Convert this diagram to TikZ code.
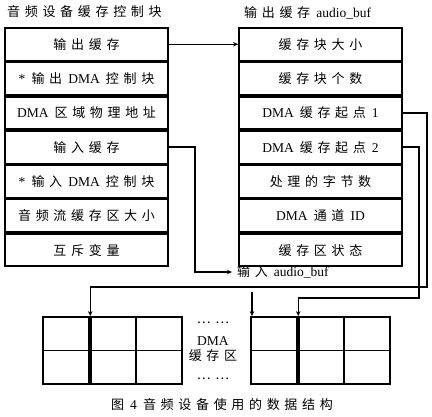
\documentclass[tikz,border=0pt]{standalone}
\usepackage{fontspec}
\setmainfont{Liberation Serif}
\newfontfamily\zhfont[LetterSpace=36]{Noto Sans CJK SC}
\newcommand{\zh}[1]{{\zhfont\fontsize{13}{15}\selectfont #1}}
\newcommand{\gap}{\hspace{0.45em}}
\usetikzlibrary{positioning,arrows.meta}

\tikzset{
  field/.style={draw, line width=1.8pt, minimum width=163pt, minimum height=32.5pt,
    inner sep=0pt, font=\fontsize{13.5}{15}\selectfont},
  cell/.style={draw, line width=1.8pt, minimum width=46.3pt, minimum height=33.5pt, inner sep=0pt},
  link/.style={line width=1.5pt, -{Stealth[length=5pt,width=4.5pt]}},
  lbl/.style={font=\fontsize{13.5}{15}\selectfont, inner sep=0pt},
}

\begin{document}
\begin{tikzpicture}[x=1pt, y=-1pt]
    \useasboundingbox[fill=white] (0,0) rectangle (432,416);

    % control block of the audio device
    \node[lbl, anchor=west] (ltitle) at (7,12) {\zh{音频设备缓存控制块}};
    \node[field] (lo) at (86.5,44.25) {\zh{输出缓存}};
    \node[field, below=0pt of lo] (lodma) {*\gap\zh{输出}\gap DMA\gap\zh{控制块}};
    \node[field, below=0pt of lodma] (addr) {DMA\gap\zh{区域物理地址}};
    \node[field, below=0pt of addr] (li) {\zh{输入缓存}};
    \node[field, below=0pt of li] (lidma) {*\gap\zh{输入}\gap DMA\gap\zh{控制块}};
    \node[field, below=0pt of lidma] (ssize) {\zh{音频流缓存区大小}};
    \node[field, below=0pt of ssize] (mutex) {\zh{互斥变量}};

    % output audio_buf
    \node[lbl, anchor=west] (rtitle) at (244,13) {\zh{输出缓存}\gap audio\_buf};
    \node[field] (bsize) at (320.5,44.25) {\zh{缓存块大小}};
    \node[field, below=0pt of bsize] (bnum) {\zh{缓存块个数}};
    \node[field, below=0pt of bnum] (s1) {DMA\gap\zh{缓存起点}\gap 1};
    \node[field, below=0pt of s1] (s2) {DMA\gap\zh{缓存起点}\gap 2};
    \node[field, below=0pt of s2] (bytes) {\zh{处理的字节数}};
    \node[field, below=0pt of bytes] (chan) {DMA\gap\zh{通道}\gap ID};
    \node[field, below=0pt of chan] (state) {\zh{缓存区状态}};

    \node[lbl, anchor=west, inner xsep=5pt] (inbuf) at (232,272) {\zh{输入}\gap audio\_buf};

    % DMA buffers
    \foreach \n/\x in {1/66.2, 2/112.5, 3/158.8} {
        \node[cell] (la\n) at (\x,333.75) {};
        \node[cell] (lb\n) at (\x,367.25) {};
    }
    \foreach \n/\x in {1/274.2, 2/320.5, 3/366.8} {
        \node[cell] (ra\n) at (\x,333.75) {};
        \node[cell] (rb\n) at (\x,367.25) {};
    }
    \draw[line width=2.6pt] (la1.north east) -- (lb1.south east);
    \draw[line width=2.6pt] (ra1.north east) -- (rb1.south east);

    \node[lbl] (dots1) at (213,323) {\zh{……}};
    \node[lbl, align=center] (dmazone) at (213,349) {DMA\\\zh{缓存区}};
    \node[lbl] (dots2) at (213,379) {\zh{……}};

    % pointers
    \coordinate (bus1) at (0,287);
    \coordinate (bus2) at (0,298);
    \coordinate (tap) at (252,292);
    \draw[link] (lo.east) -- (bsize.west);
    \draw[link] (li.east) -- ++(26,0) |- (inbuf.west);
    \draw[link] (s1.east) -- ++(24,0) |- (bus1 -| la1.north east) -- (la1.north east);
    \draw[link] (s2.east) -- ++(16,0) |- (bus2 -| ra1.north east) -- (ra1.north east);
    \draw[link] (tap) -- (tap |- ra1.north);

    \node[lbl] (caption) at (222,405) {\zh{图}\gap 4\gap\zh{音频设备使用的数据结构}};
\end{tikzpicture}
\end{document}
